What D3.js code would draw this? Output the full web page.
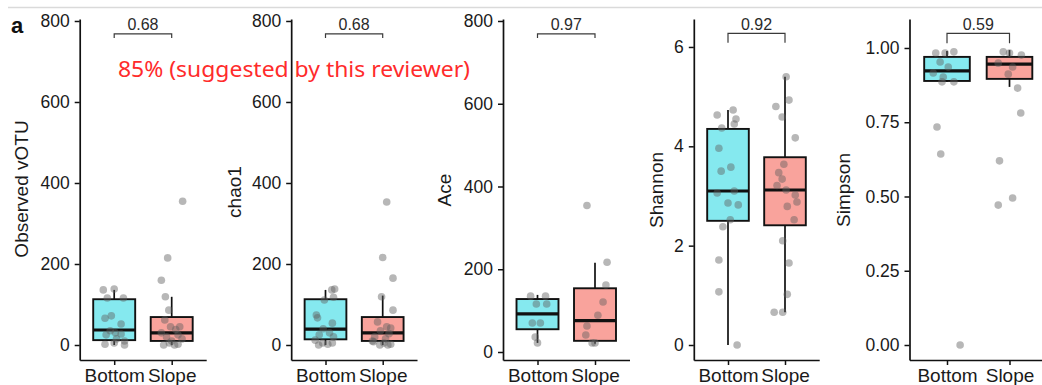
<!DOCTYPE html>
<html>
<head>
<meta charset="utf-8">
<script src="https://cdn.jsdelivr.net/npm/d3@7"></script>
<style>
  body { margin: 0; background: #fff; }
  svg { display: block; }
</style>
</head>
<body>
<svg id="chart" width="1042" height="385"></svg>
<script>
// ---- data -------------------------------------------------------------
const categories = ["Bottom", "Slope"];
const metricTitles = ["Observed vOTU", "chao1", "Ace", "Shannon", "Simpson"];
const pLabels = ["0.68", "0.68", "0.97", "0.92", "0.59"];

const yTickValues = [
  [0, 200, 400, 600, 800],
  [0, 200, 400, 600, 800],
  [0, 200, 400, 600, 800],
  [0, 2, 4, 6],
  [0, 0.25, 0.5, 0.75, 1]
];
const yTickLabels = [
  ["0", "200", "400", "600", "800"],
  ["0", "200", "400", "600", "800"],
  ["0", "200", "400", "600", "800"],
  ["0", "2", "4", "6"],
  ["0.00", "0.25", "0.50", "0.75", "1.00"]
];

// per-sample values
const observedBottom = [136, 138, 116, 116, 72, 66, 52, 35, 27, 25, 15, 10, 5, 2, 0, 30];
const observedSlope  = [355, 215, 160, 119, 86, 62, 45, 45, 38, 30, 25, 20, 15, 10, 5, 2, 0, 0];
const chao1Bottom    = [138, 136, 111, 74, 67, 54, 40, 30, 25, 20, 12, 5, 5, 0, 2, 118];
const chao1Slope     = [353, 216, 165, 119, 86, 57, 45, 42, 35, 28, 20, 15, 10, 8, 5, 2, 0, 0];
const aceBottom      = [135, 135, 116, 116, 70, 70, 36, 22];
const aceSlope       = [354, 217, 162, 121, 89, 63, 41, 22, 22];
const shannonBottom  = [4.63, 4.73, 4.55, 4.45, 4.37, 3.96, 3.58, 3.5, 3.1, 3.06, 2.86, 2.82, 2.52, 2.38, 1.71, 1.07, 0.0];
const shannonSlope   = [5.40, 4.93, 4.8, 4.59, 4.17, 3.64, 3.47, 3.34, 3.21, 3.12, 3.02, 2.88, 2.79, 2.52, 2.1, 1.65, 1.02, 0.66, 0.66];
const simpsonBottom  = [0.983, 0.983, 0.987, 0.953, 0.936, 0.916, 0.902, 0.886, 0.886, 0.734, 0.643, 0.0];
const simpsonSlope   = [0.987, 0.983, 0.976, 0.949, 0.936, 0.912, 0.865, 0.781, 0.62, 0.495, 0.471];

// horizontal jitter of each sample, in category units
const observedBottomJitter = [-0.19, 0, -0.12, 0.16, -0.05, -0.16, 0.12, -0.07, 0.12, -0.14, 0.04, 0.18, 0, -0.16, 0.18, 0.02];
const observedSlopeJitter  = [0.19, -0.07, -0.18, -0.11, -0.05, -0.12, -0.02, 0.14, 0.07, -0.18, 0.11, -0.09, 0.18, 0, -0.04, 0.11, 0.05, -0.14];
const chao1BottomJitter    = [0.16, 0.11, -0.02, -0.16, -0.14, 0.12, -0.04, 0.07, -0.11, 0.14, -0.18, -0.05, 0.12, -0.12, 0.04, 0.14];
const chao1SlopeJitter     = [0.07, 0, 0.18, -0.02, 0.18, -0.09, 0.07, 0.14, -0.04, 0.11, -0.14, 0.05, -0.18, -0.16, 0.02, 0.14, -0.05, 0.09];
const aceBottomJitter      = [-0.12, 0.14, -0.02, 0.16, -0.09, 0.05, -0.04, 0];
const aceSlopeJitter       = [-0.14, 0.21, 0.19, 0.14, 0.05, -0.14, -0.16, -0.05, 0];
const shannonBottomJitter  = [-0.19, 0.09, 0.14, 0.11, -0.11, -0.16, 0.05, -0.12, 0.11, -0.19, 0, 0.18, 0.04, -0.09, -0.16, -0.16, 0.16];
const shannonSlopeJitter   = [0.02, 0.07, -0.16, -0.05, 0.18, -0.02, -0.11, -0.05, -0.14, 0.02, 0.18, 0.21, 0.04, 0.16, -0.04, 0.07, 0.04, -0.19, -0.04];
const simpsonBottomJitter  = [-0.18, -0.03, 0.11, -0.11, 0.02, -0.22, -0.06, -0.08, 0.11, -0.16, -0.1, 0.21];
const simpsonSlopeJitter   = [-0.1, 0, 0.19, -0.18, 0.05, -0.02, 0.13, 0.18, -0.16, 0.05, -0.18];

// box summaries: [lower whisker, Q1, median, Q3, upper whisker]
const observedBoxes = [[0, 12, 37, 113, 136], [0, 10, 30, 69, 119]];
const chao1Boxes    = [[0, 14, 39, 113, 136], [0, 10, 30, 69, 122]];
const aceBoxes      = [[22, 55, 92, 128, 138], [20, 27, 76, 154, 216]];
const shannonBoxes  = [[0, 2.5, 3.1, 4.35, 4.73], [0.66, 2.41, 3.12, 3.78, 5.4]];
const simpsonBoxes  = [[0.886, 0.889, 0.923, 0.97, 0.99], [0.869, 0.896, 0.946, 0.97, 0.993]];

// comparison bracket: [bar height, tip end]
const brackets = [[768, 758], [768, 758], [769, 759], [6.275, 6.086], [1.0495, 1.016]];

const samples = [
  [observedBottom, observedSlope],
  [chao1Bottom, chao1Slope],
  [aceBottom, aceSlope],
  [shannonBottom, shannonSlope],
  [simpsonBottom, simpsonSlope]
];
const jitters = [
  [observedBottomJitter, observedSlopeJitter],
  [chao1BottomJitter, chao1SlopeJitter],
  [aceBottomJitter, aceSlopeJitter],
  [shannonBottomJitter, shannonSlopeJitter],
  [simpsonBottomJitter, simpsonSlopeJitter]
];
const boxes = [observedBoxes, chao1Boxes, aceBoxes, shannonBoxes, simpsonBoxes];

// ---- layout -----------------------------------------------------------
const plotTop = 19, plotBottom = 360;
const panels = [
  { centers: [114.2, 171.7], domain: [-37.04, 804.9], titleX: 28,  titleY: 189 },
  { centers: [325.5, 382.7], domain: [-37.04, 804.9], titleX: 241, titleY: 192 },
  { centers: [537.5, 595.0], domain: [-19.33, 804.8], titleX: 451, titleY: 190 },
  { centers: [728.0, 785.0], domain: [-0.302, 6.563], titleX: 663, titleY: 190 },
  { centers: [947.0, 1009.5], domain: [-0.0505, 1.0976], titleX: 850, titleY: 190 }
];
const fills = ["#85E9EF", "#F9A39C"];
const font = "'Liberation Sans', Arial, Helvetica, sans-serif";

const svg = d3.select("#chart");

// thin rule along the top
svg.append("line")
  .attr("x1", 8).attr("x2", 1042).attr("y1", 7.5).attr("y2", 7.5)
  .attr("stroke", "#dadada").attr("stroke-width", 1.5);

svg.append("text")
  .attr("x", 11).attr("y", 33)
  .attr("font-family", font).attr("font-weight", "bold").attr("font-size", 22)
  .attr("fill", "#111")
  .text("a");

panels.forEach((p, i) => {
  const step = p.centers[1] - p.centers[0];
  const x = d3.scalePoint()
    .domain(categories)
    .range([p.centers[0] - 0.6 * step, p.centers[1] + 0.6 * step])
    .padding(0.6);
  const y = d3.scaleLinear().domain(p.domain).range([plotBottom, plotTop]);
  const g = svg.append("g");

  // axes
  const yAxis = g.append("g")
    .attr("transform", `translate(${x.range()[0]},0)`)
    .call(d3.axisLeft(y)
      .tickValues(yTickValues[i])
      .tickFormat((d, k) => yTickLabels[i][k])
      .tickSize(5).tickSizeOuter(0).tickPadding(5));
  const xAxis = g.append("g")
    .attr("transform", `translate(0,${plotBottom})`)
    .call(d3.axisBottom(x).tickSize(5).tickSizeOuter(0).tickPadding(4));

  [yAxis, xAxis].forEach(a => {
    a.select(".domain").attr("stroke", "#111").attr("stroke-width", 1.7);
    a.selectAll(".tick line").attr("stroke", "#111").attr("stroke-width", 1.5);
    a.selectAll(".tick text").attr("fill", "#1a1a1a").attr("font-family", font);
  });
  yAxis.selectAll(".tick text").attr("font-size", 17.5);
  xAxis.selectAll(".tick text").attr("font-size", 19);

  // axis title
  g.append("text")
    .attr("transform", `translate(${p.titleX},${p.titleY}) rotate(-90)`)
    .attr("text-anchor", "middle")
    .attr("font-family", font).attr("font-size", 19).attr("fill", "#1a1a1a")
    .text(metricTitles[i]);

  const boxW = 0.73 * step;

  categories.forEach((cat, j) => {
    const s = boxes[i][j];
    const cx = x(cat);
    // whisker
    g.append("line")
      .attr("x1", cx).attr("x2", cx)
      .attr("y1", y(s[0])).attr("y2", y(s[4]))
      .attr("stroke", "#111").attr("stroke-width", 1.7);
    // box
    g.append("rect")
      .attr("x", cx - boxW / 2).attr("width", boxW)
      .attr("y", y(s[3])).attr("height", y(s[1]) - y(s[3]))
      .attr("fill", fills[j])
      .attr("stroke", "#111").attr("stroke-width", 1.9);
    // median
    g.append("line")
      .attr("x1", cx - boxW / 2).attr("x2", cx + boxW / 2)
      .attr("y1", y(s[2])).attr("y2", y(s[2]))
      .attr("stroke", "#111").attr("stroke-width", 3.2);
  });

  // jittered samples
  categories.forEach((cat, j) => {
    g.append("g").selectAll("circle")
      .data(samples[i][j])
      .join("circle")
      .attr("cx", (d, k) => x(cat) + jitters[i][j][k] * step)
      .attr("cy", d => y(d))
      .attr("r", 3.8)
      .attr("fill", "#5f5f5f")
      .attr("fill-opacity", 0.45);
  });

  // significance bracket
  const [barV, tipV] = brackets[i];
  const x0 = x(categories[0]), x1 = x(categories[1]);
  g.append("path")
    .attr("d", `M${x0},${y(tipV)}V${y(barV)}H${x1}V${y(tipV)}`)
    .attr("fill", "none").attr("stroke", "#3a3a3a").attr("stroke-width", 1.2);
  g.append("text")
    .attr("x", (x0 + x1) / 2).attr("y", y(barV) - 3.5)
    .attr("text-anchor", "middle")
    .attr("font-family", font).attr("font-size", 16).attr("fill", "#2a2a2a")
    .text(pLabels[i]);
});

// reviewer note
svg.append("text")
  .attr("x", 118).attr("y", 76.5)
  .attr("font-family", "'Noto Sans', 'Open Sans', sans-serif")
  .attr("font-size", 21.5)
  .attr("fill", "#FF2B2B")
  .attr("textLength", 352)
  .attr("lengthAdjust", "spacingAndGlyphs")
  .text("85% (suggested by this reviewer)");
</script>
</body>
</html>
